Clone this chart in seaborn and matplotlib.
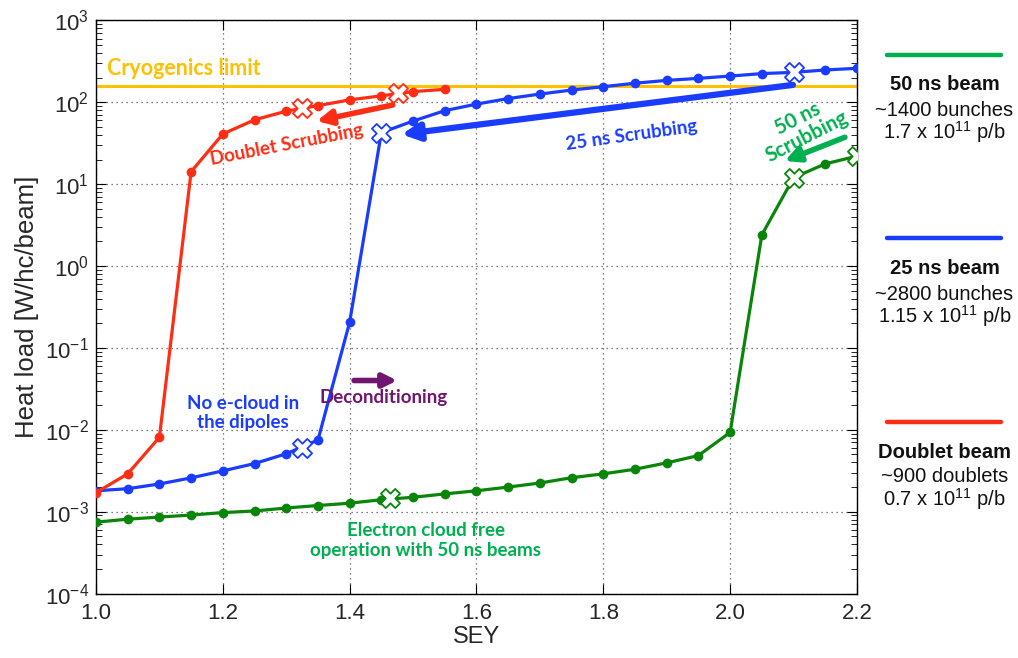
import matplotlib
matplotlib.use("Agg")
import matplotlib.pyplot as plt
from matplotlib.lines import Line2D
from matplotlib.ticker import LogLocator, FixedLocator
import pandas as pd
import seaborn as sns

# ---- data -------------------------------------------------------------
sey = [1.00, 1.05, 1.10, 1.15, 1.20, 1.25, 1.30, 1.35, 1.40, 1.45, 1.50, 1.55,
       1.60, 1.65, 1.70, 1.75, 1.80, 1.85, 1.90, 1.95, 2.00, 2.05, 2.10, 2.15, 2.20]

doublet_sey = [1.00, 1.05, 1.10, 1.15, 1.20, 1.25, 1.30, 1.35, 1.40, 1.45, 1.50, 1.55]
doublet_load = [1.71e-3, 2.9e-3, 8.1e-3, 14.2, 41, 61, 78, 91, 107, 120, 135, 144]
doublet_marks_sey = [1.325, 1.476]
doublet_marks_load = [84.5, 129]

load_25ns = [1.8e-3, 1.91e-3, 2.18e-3, 2.59e-3, 3.15e-3, 3.87e-3, 5.1e-3, 7.5e-3,
             0.206, 42.6, 59, 79, 95, 111, 126, 141, 155, 171, 185, 196, 209,
             224, 232, 248, 260]
marks_25ns_sey = [1.325, 1.45, 2.10]
marks_25ns_load = [6.07e-3, 42.6, 232]

load_50ns = [7.45e-4, 8.1e-4, 8.6e-4, 9.1e-4, 9.75e-4, 1.02e-3, 1.11e-3, 1.19e-3,
             1.27e-3, 1.40e-3, 1.5e-3, 1.65e-3, 1.8e-3, 2.0e-3, 2.24e-3, 2.6e-3,
             2.9e-3, 3.3e-3, 3.95e-3, 4.85e-3, 9.3e-3, 2.4, 12, 17.7, 22]
marks_50ns_sey = [1.464, 2.10, 2.20]
marks_50ns_load = [1.46e-3, 12, 22]

cryo_limit = 160

x_ticks = [1.0, 1.2, 1.4, 1.6, 1.8, 2.0, 2.2]
y_ticks = [1e-4, 1e-3, 1e-2, 1e-1, 1e0, 1e1, 1e2, 1e3]

# ---- colours ----------------------------------------------------------
RED = "#FF2D14"
BLUE = "#1A3CFF"
GREEN_LINE = "#0A850A"
GREEN_TXT = "#00B050"
PURPLE = "#701670"
GOLD = "#FFC000"

# ---- style ------------------------------------------------------------
sns.set_theme(style="ticks")
plt.rcParams["font.family"] = ["Liberation Sans", "DejaVu Sans"]
plt.rcParams["mathtext.fontset"] = "custom"
plt.rcParams["mathtext.rm"] = "Liberation Sans"
plt.rcParams["mathtext.it"] = "Liberation Sans:italic"
plt.rcParams["mathtext.bf"] = "Liberation Sans:bold"

fig = plt.figure(figsize=(10.18, 6.58), dpi=100)
ax = fig.add_axes([0.0943, 0.0979, 0.7475, 0.8711])

series = [
    (sey, load_50ns, GREEN_LINE, marks_50ns_sey, marks_50ns_load),
    (sey, load_25ns, BLUE, marks_25ns_sey, marks_25ns_load),
    (doublet_sey, doublet_load, RED, doublet_marks_sey, doublet_marks_load),
]
for xs, ys, col, mx, my in series:
    df = pd.DataFrame({"SEY": xs, "load": ys})
    sns.lineplot(data=df, x="SEY", y="load", ax=ax, color=col, lw=2.3,
                 marker="o", markersize=7, markeredgewidth=0,
                 estimator=None, sort=True, zorder=3)
    dm = pd.DataFrame({"SEY": mx, "load": my})
    sns.scatterplot(data=dm, x="SEY", y="load", ax=ax, marker="X", s=190,
                    facecolor="white", edgecolor=col, linewidth=1.3, zorder=5)

ax.axhline(cryo_limit, color=GOLD, lw=2.2, zorder=2)

ax.set_yscale("log")
ax.set_xlim(1.0, 2.2)
ax.set_ylim(1e-4, 1e3)
ax.set_xticks(x_ticks)
ax.set_xticklabels([f"{v:.1f}" for v in x_ticks])
ax.yaxis.set_major_locator(FixedLocator(y_ticks))
ax.yaxis.set_minor_locator(LogLocator(base=10, subs=range(2, 10), numticks=20))
ax.grid(True, which="major", ls=(0, (1, 3)), color="#555555", lw=0.9)
ax.tick_params(which="both", direction="in", top=True, right=True,
               labelsize=16, color="black")
ax.tick_params(which="major", length=7, width=0.8)
ax.tick_params(which="minor", length=4, width=0.6)
ax.tick_params(axis="x", which="minor", bottom=False, top=False)
ax.tick_params(axis="x", which="major", pad=7)
ax.tick_params(axis="y", which="major", pad=5)
for sp in ax.spines.values():
    sp.set_color("black")
    sp.set_linewidth(1.0)
ax.set_xlabel("SEY", fontsize=17, labelpad=1)
ax.set_ylabel("Heat load [W/hc/beam]", fontsize=18.5, labelpad=4)

# ---- arrows -----------------------------------------------------------
def arrow(x0, y0, x1, y1, col, lw, scale):
    ax.annotate("", xy=(x1, y1), xytext=(x0, y0),
                arrowprops=dict(arrowstyle="-|>", color=col, lw=lw,
                                mutation_scale=scale, shrinkA=0, shrinkB=0),
                zorder=6)

arrow(1.468, 92.7, 1.348, 59, RED, 4.0, 22)
arrow(2.099, 163, 1.482, 40.6, BLUE, 4.5, 26)
arrow(2.181, 37.4, 2.086, 19.2, GREEN_TXT, 4.0, 22)
arrow(1.407, 0.04, 1.475, 0.04, PURPLE, 4.0, 20)

# ---- annotations ------------------------------------------------------
ann = dict(family=["Lato", "DejaVu Sans"], fontweight="bold", fontsize=13.5,
           ha="center", va="center", zorder=7)
ax.text(1.017, 255, "Cryogenics limit", color=GOLD,
        **{**ann, "ha": "left", "fontsize": 15.5})
ax.text(1.301, 30, "Doublet Scrubbing", color=RED, rotation=11, **ann)
ax.text(1.845, 39, "25 ns Scrubbing", color=BLUE, rotation=8, **ann)
ax.text(2.114, 49, "50 ns\nScrubbing", color=GREEN_TXT, rotation=27,
        linespacing=1.0, **{**ann, "fontsize": 14.5})
ax.text(1.232, 0.0161, "No e-cloud in\nthe dipoles", color=BLUE,
        linespacing=1.15, **ann)
ax.text(1.454, 0.0245, "Deconditioning", color=PURPLE, **ann)
ax.text(1.52, 4.4e-4, "Electron cloud free\noperation with 50 ns beams",
        color=GREEN_TXT, linespacing=1.2, **ann)

# ---- beam descriptions on the right ----------------------------------
W, H = 1018.0, 658.0
beams = [
    (55, GREEN_TXT, "50 ns beam", "~1400 bunches", r"1.7 x 10$^{11}$ p/b",
     (85, 110, 132)),
    (238, BLUE, "25 ns beam", "~2800 bunches", r"1.15 x 10$^{11}$ p/b",
     (269, 294, 316)),
    (422, RED, "Doublet beam", "~900 doublets", r"0.7 x 10$^{11}$ p/b",
     (453, 477, 499)),
]
cx = 944.5 / W
for ly, col, title, line2, line3, ys in beams:
    fig.add_artist(Line2D([887 / W, 1001 / W], [1 - ly / H, 1 - ly / H],
                          color=col, lw=3.2))
    fig.text(cx, 1 - ys[0] / H, title, ha="center", va="center",
             fontsize=14.5, fontweight="bold", color="#111111")
    fig.text(cx, 1 - ys[1] / H, line2, ha="center", va="center",
             fontsize=14.5, color="#111111")
    fig.text(cx, 1 - ys[2] / H, line3, ha="center", va="center",
             fontsize=14.5, color="#111111")

fig.savefig("out.png", dpi=100)
